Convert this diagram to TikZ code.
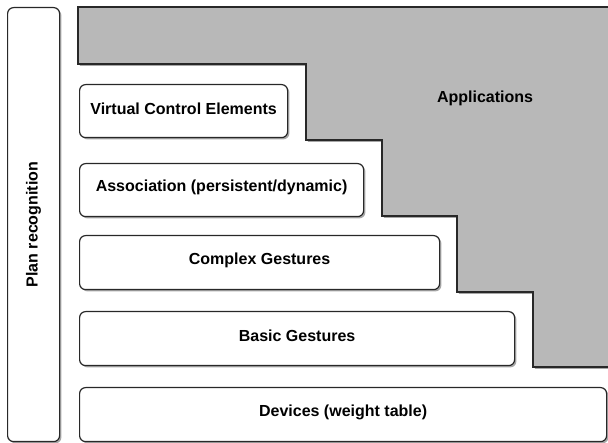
\documentclass[tikz,border=0pt]{standalone}
\usepackage{fontspec}
\setmainfont{Liberation Sans}
\usetikzlibrary{shadows}
\definecolor{appgray}{RGB}{184,184,184}
\definecolor{edge}{RGB}{40,40,40}
\begin{document}
\begin{tikzpicture}[x=1pt,y=-1pt,
  shad/.style={drop shadow={shadow xshift=1.8pt,shadow yshift=-1.8pt,fill=black,opacity=0.35}},
  layerbox/.style={draw=edge,line width=1.2pt,fill=white,rounded corners=6pt,shad,
    anchor=north west,inner sep=0pt},
  lbl/.style={font=\fontsize{16}{19}\selectfont\bfseries,inner sep=0pt}]
\useasboundingbox (0,0) rectangle (608,443);
% Applications region
\path[draw=edge,line width=1.2pt,fill=appgray,shad]
  (78,7) -- (625,7) -- (625,367) -- (533,367) -- (533,292) -- (457,292)
  -- (457,216) -- (382,216) -- (382,140) -- (306,140) -- (306,64) -- (78,64) -- cycle;
\node[lbl] (app) at (485,98) {Applications};
% Plan recognition
\node[layerbox,minimum width=52pt,minimum height=434pt] (plan) at (7,7) {};
\node[lbl,rotate=90] (plant) at (plan.center) {Plan recognition};
% layers
\node[layerbox,minimum width=208pt,minimum height=53pt] (vce) at (79,84) {};
\node[lbl] (vcet) at ([yshift=2.5pt]vce.center) {Virtual Control Elements};
\node[layerbox,minimum width=284pt,minimum height=53pt] (assoc) at (79,163) {};
\node[lbl] (assoct) at ([yshift=2.5pt]assoc.center) {Association (persistent/dynamic)};
\node[layerbox,minimum width=360pt,minimum height=54pt] (cplx) at (79,235) {};
\node[lbl] (cplxt) at ([yshift=2.5pt]cplx.center) {Complex Gestures};
\node[layerbox,minimum width=435pt,minimum height=54pt] (basic) at (79,311) {};
\node[lbl] (basict) at ([yshift=2.5pt]basic.center) {Basic Gestures};
\node[layerbox,minimum width=527pt,minimum height=54pt] (dev) at (79,387) {};
\node[lbl] (devt) at ([yshift=2.5pt]dev.center) {Devices (weight table)};
\end{tikzpicture}
\end{document}
